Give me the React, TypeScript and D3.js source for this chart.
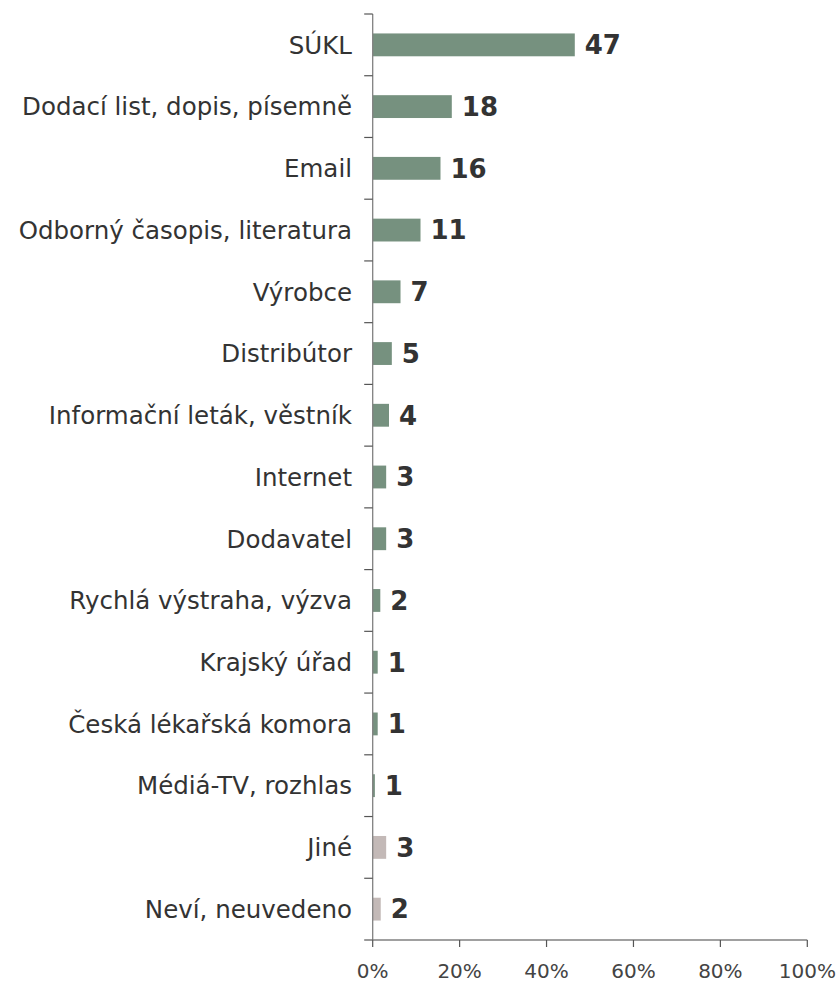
import React from "react";
import * as d3 from "d3";

const categories = [
  "SÚKL",
  "Dodací list, dopis, písemně",
  "Email",
  "Odborný časopis, literatura",
  "Výrobce",
  "Distribútor",
  "Informační leták, věstník",
  "Internet",
  "Dodavatel",
  "Rychlá výstraha, výzva",
  "Krajský úřad",
  "Česká lékařská komora",
  "Médiá-TV, rozhlas",
  "Jiné",
  "Neví, neuvedeno",
];
const values = [46.5, 18.2, 15.6, 11.0, 6.4, 4.4, 3.75, 3.1, 3.1, 1.75, 1.15, 1.15, 0.5, 3.1, 1.85];
const labels = ["47", "18", "16", "11", "7", "5", "4", "3", "3", "2", "1", "1", "1", "3", "2"];
const groups = ["main", "main", "main", "main", "main", "main", "main", "main", "main", "main", "main", "main", "main", "other", "other"];
const xTicks = [0, 20, 40, 60, 80, 100];

const W = 839;
const H = 982;
const left = 372.7;
const right = 807.3;
const top = 14;
const bottom = 940;

export default function App() {
  const x = d3.scaleLinear().domain([0, 100]).range([left, right]);
  const y = d3.scaleBand<string>().domain(categories).range([top, bottom]).paddingInner(0.63).paddingOuter(0.315);
  const band = (bottom - top) / categories.length;
  const boundaries = d3.range(categories.length + 1).map((i) => top + i * band);
  const color = (g: string) => (g === "main" ? "#76917f" : "#c3b9b7");
  const font = "Verdana, 'DejaVu Sans', sans-serif";
  return (
    <svg width={W} height={H} style={{ position: "absolute", left: 0, top: 0, background: "#fff" }}>
      {categories.map((c, i) => (
        <rect
          key={c}
          x={x(0)}
          y={y(c)!}
          width={x(values[i]) - x(0)}
          height={y.bandwidth()}
          fill={color(groups[i])}
        />
      ))}
      <line x1={left} x2={left} y1={top} y2={bottom} stroke="#808080" strokeWidth={1.3} />
      {boundaries.map((b, i) => (
        <line key={i} x1={left - 8.5} x2={left} y1={b} y2={b} stroke="#555" strokeWidth={1.2} />
      ))}
      <line x1={left} x2={right} y1={bottom} y2={bottom} stroke="#808080" strokeWidth={1.3} />
      {xTicks.map((t) => (
        <g key={t}>
          <line x1={x(t)} x2={x(t)} y1={bottom} y2={bottom + 7} stroke="#555" strokeWidth={1.2} />
          <text
            x={x(t)}
            y={978}
            textAnchor="middle"
            fontFamily={font}
            fontSize={20}
            fill="#444"
          >
            {t}%
          </text>
        </g>
      ))}
      {categories.map((c, i) => (
        <text
          key={"c" + c}
          x={352}
          y={y(c)! + y.bandwidth() / 2}
          dy="0.36em"
          textAnchor="end"
          fontFamily={font}
          fontSize={24.5}
          fill="#333"
        >
          {c}
        </text>
      ))}
      {categories.map((c, i) => (
        <text
          key={"v" + c}
          x={x(values[i]) + 10}
          y={y(c)! + y.bandwidth() / 2}
          dy="0.36em"
          fontFamily={font}
          fontSize={26}
          fontWeight="bold"
          fill="#333"
        >
          {labels[i]}
        </text>
      ))}
    </svg>
  );
}
